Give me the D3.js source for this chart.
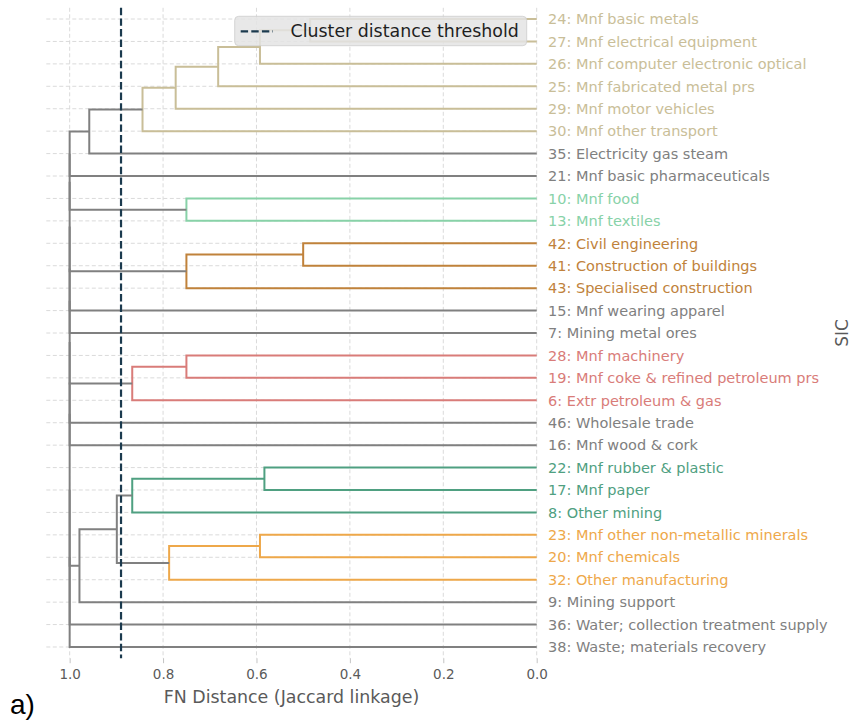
<!DOCTYPE html>
<html>
<head>
<meta charset="utf-8">
<script src="https://cdn.jsdelivr.net/npm/d3@7/dist/d3.min.js"></script>
<style>
  html, body { margin: 0; padding: 0; background: #fff; }
  svg { display: block; font-family: "DejaVu Sans", sans-serif; }
</style>
</head>
<body>
<svg id="chart" width="852" height="722"></svg>
<script>
// Leaves in dendrogram order, top to bottom
const leafLabels = [
  "24: Mnf basic metals",
  "27: Mnf electrical equipment",
  "26: Mnf computer electronic optical",
  "25: Mnf fabricated metal prs",
  "29: Mnf motor vehicles",
  "30: Mnf other transport",
  "35: Electricity gas steam",
  "21: Mnf basic pharmaceuticals",
  "10: Mnf food",
  "13: Mnf textiles",
  "42: Civil engineering",
  "41: Construction of buildings",
  "43: Specialised construction",
  "15: Mnf wearing apparel",
  "7: Mining metal ores",
  "28: Mnf machinery",
  "19: Mnf coke & refined petroleum prs",
  "6: Extr petroleum & gas",
  "46: Wholesale trade",
  "16: Mnf wood & cork",
  "22: Mnf rubber & plastic",
  "17: Mnf paper",
  "8: Other mining",
  "23: Mnf other non-metallic minerals",
  "20: Mnf chemicals",
  "32: Other manufacturing",
  "9: Mining support",
  "36: Water; collection treatment supply",
  "38: Waste; materials recovery"
];

// Linkage rows: [child a, child b, distance]; ids >= leaf count refer to earlier rows
const mergeA    = [0, 29, 30, 31, 32, 33, 8, 10, 36, 15, 38, 20, 40, 23, 42, 41, 44, 34, 46, 47, 48, 49, 50, 51, 52, 53, 54, 55];
const mergeB    = [1, 2, 3, 4, 5, 6, 9, 11, 12, 16, 17, 21, 22, 24, 25, 43, 26, 7, 35, 37, 13, 14, 39, 18, 19, 45, 27, 28];
const mergeDist = [0.485, 0.5925, 0.682, 0.773, 0.844, 0.958, 0.75, 0.5, 0.75, 0.75, 0.866, 0.583, 0.866, 0.5925, 0.787, 0.899, 0.979,
                   1.0, 1.0, 1.0, 1.0, 1.0, 1.0, 1.0, 1.0, 1.0, 1.0, 1.0];

const threshold = 0.89;
const clusterPalette = ["#c9be98", "#88d2a8", "#c0823b", "#d97c79", "#4fa081", "#eea84a"];
const aboveColor = "#808080";
const xTickValues = [1.0, 0.8, 0.6, 0.4, 0.2, 0.0];

const svg = d3.select("#chart");
const nLeaves = leafLabels.length;
const nMerges = mergeDist.length;

// Scales: distance runs right-to-left, leaves at 5, 15, 25, ... like scipy
const x = d3.scaleLinear().domain([1.05, 0]).range([46.3, 536.7]);
const y = d3.scaleLinear().domain([0, 10 * nLeaves]).range([7.8, 658.2]);

// Node positions and heights
const pos = [], height = [], parent = [];
for (let i = 0; i < nLeaves; i++) { pos[i] = 5 + 10 * i; height[i] = 0; }
for (let k = 0; k < nMerges; k++) {
  const id = nLeaves + k, a = mergeA[k], b = mergeB[k];
  pos[id] = (pos[a] + pos[b]) / 2;
  height[id] = mergeDist[k];
  parent[a] = id; parent[b] = id;
}

// Cluster colouring below the threshold
const clusterRoot = [];
for (let k = 0; k < nMerges; k++) {
  const id = nLeaves + k;
  if (height[id] >= threshold) continue;
  let r = id;
  while (parent[r] !== undefined && height[parent[r]] < threshold) r = parent[r];
  clusterRoot[id] = r;
}
const roots = Array.from(new Set(clusterRoot.filter(v => v !== undefined))).sort((p, q) => pos[p] - pos[q]);
const rootColor = new Map(roots.map((r, i) => [r, clusterPalette[i % clusterPalette.length]]));
const nodeColor = id => clusterRoot[id] !== undefined ? rootColor.get(clusterRoot[id]) : aboveColor;

const leafColor = [];
for (let i = 0; i < nLeaves; i++) {
  const p = parent[i];
  leafColor[i] = (p !== undefined && height[p] < threshold) ? nodeColor(p) : aboveColor;
}

// Grid
const grid = svg.append("g");
grid.selectAll("line.h").data(d3.range(nLeaves)).join("line")
  .attr("x1", x(1.05)).attr("x2", x(0))
  .attr("y1", i => y(5 + 10 * i)).attr("y2", i => y(5 + 10 * i))
  .attr("stroke", "#d6d6d6").attr("stroke-width", 0.9).attr("stroke-dasharray", "4,2.5");
grid.selectAll("line.v").data(xTickValues).join("line")
  .attr("x1", d => x(d)).attr("x2", d => x(d))
  .attr("y1", y(0)).attr("y2", y(10 * nLeaves))
  .attr("stroke", "#d6d6d6").attr("stroke-width", 0.9).attr("stroke-dasharray", "4,2.5");

// Dendrogram links (U shapes)
const links = svg.append("g").attr("fill", "none").attr("stroke-width", 2);
for (let k = 0; k < nMerges; k++) {
  const id = nLeaves + k, a = mergeA[k], b = mergeB[k];
  const path = d3.path();
  path.moveTo(x(height[a]), y(pos[a]));
  path.lineTo(x(height[id]), y(pos[a]));
  path.lineTo(x(height[id]), y(pos[b]));
  path.lineTo(x(height[b]), y(pos[b]));
  links.append("path").attr("d", path.toString()).attr("stroke", nodeColor(id));
}

// Threshold line
svg.append("line")
  .attr("x1", x(threshold)).attr("x2", x(threshold))
  .attr("y1", y(0)).attr("y2", y(10 * nLeaves))
  .attr("stroke", "#1b3a4e").attr("stroke-width", 2.2).attr("stroke-dasharray", "7.4,3.2");

// Bottom axis
const xAxis = d3.axisBottom(x).tickValues(xTickValues).tickFormat(d3.format(".1f")).tickSize(5).tickPadding(6);
const ax = svg.append("g").attr("transform", `translate(0,${y(10 * nLeaves)})`).call(xAxis);
ax.select(".domain").remove();
ax.selectAll(".tick line").attr("stroke", "#c4c4c4");
ax.selectAll(".tick text").attr("fill", "#5a5a5a").attr("font-size", 13.5)
  .attr("font-family", "DejaVu Sans");

svg.append("text")
  .attr("x", (x(1.05) + x(0)) / 2).attr("y", 703)
  .attr("text-anchor", "middle").attr("fill", "#5a5a5a").attr("font-size", 17.4)
  .text("FN Distance (Jaccard linkage)");

// Leaf labels on the right
svg.append("g").selectAll("text").data(leafLabels).join("text")
  .attr("x", x(0) + 11.3).attr("y", (d, i) => y(5 + 10 * i)).attr("dy", "0.36em")
  .attr("font-size", 14.5).attr("fill", (d, i) => leafColor[i])
  .text(d => d);

svg.append("text")
  .attr("transform", `translate(848,${(y(0) + y(10 * nLeaves)) / 2}) rotate(-90)`)
  .attr("text-anchor", "middle").attr("fill", "#5a5a5a").attr("font-size", 17)
  .text("SIC");

// Legend
const lg = svg.append("g");
lg.append("rect").attr("x", 234.7).attr("y", 16.3).attr("width", 292).attr("height", 29.4).attr("rx", 4)
  .attr("fill", "#e4e4e4").attr("fill-opacity", 0.85).attr("stroke", "#cfcfcf").attr("stroke-opacity", 0.85);
lg.append("line").attr("x1", 240.7).attr("x2", 273).attr("y1", 31.3).attr("y2", 31.3)
  .attr("stroke", "#1b3a4e").attr("stroke-width", 2.2).attr("stroke-dasharray", "7.4,3.2");
lg.append("text").attr("x", 290.5).attr("y", 37).attr("font-size", 17.4).attr("fill", "#1f1f1f")
  .text("Cluster distance threshold");

// Panel tag
svg.append("text").attr("x", 10).attr("y", 714).attr("font-family", "Liberation Sans, Arial, sans-serif")
  .attr("font-size", 28).attr("fill", "#000").text("a)");
</script>
</body>
</html>
